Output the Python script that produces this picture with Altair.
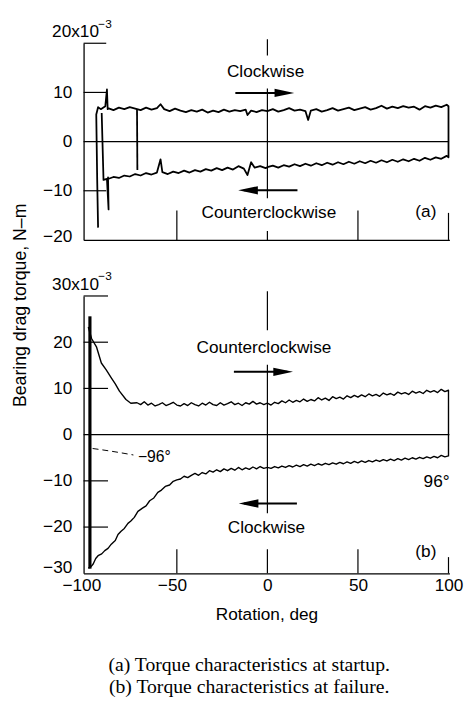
import altair as alt
import pandas as pd

# ---------------- data ----------------
X_DOMAIN = [-101.5, 100.5]
X_TICKS = [-100, -50, 0, 50, 100]

# Panel (a): torque at startup (x10^-3 N-m)
a_loop_x = [-93.5, -94.0, -94.5, -93.5, -92.0, -89.5, -88.6, -88.2]
a_loop_y = [-17.5, -7.5, 5.5, 7.0, 6.6, 7.2, 10.6, 6.6]

a_up_x = [-88, -85, -82, -79, -76, -73, -70, -67, -64, -61, -59, -57, -54, -51, -48,
          -45, -42, -39, -36, -33, -30, -27, -24, -21, -18, -15, -12, -11, -9, -6, -3,
          0, 3, 6, 9, 12, 15, 18, 21, 22.5, 24, 27, 30, 33, 36, 39, 42, 45, 48, 51,
          54, 57, 60, 63, 66, 69, 72, 75, 78, 81, 84, 87, 90, 93, 96, 99, 100]
a_up_y = [6.8, 6.4, 6.9, 6.6, 7.0, 6.7, 6.4, 6.9, 6.5, 6.8, 7.6, 6.6, 6.2, 6.7, 6.3,
          6.0, 6.4, 6.1, 6.5, 5.9, 6.3, 6.0, 6.5, 6.1, 6.4, 6.2, 6.5, 5.4, 6.3, 6.0, 6.4,
          6.2, 6.6, 6.1, 6.4, 6.8, 6.3, 6.5, 6.2, 4.4, 6.3, 6.6, 6.1, 6.4, 6.8, 6.3, 6.6,
          6.9, 6.4, 6.7, 7.0, 6.5, 6.8, 7.3, 6.7, 7.1, 6.8, 7.2, 6.9, 7.1, 6.5, 7.2, 6.9,
          7.3, 7.0, 7.5, 7.2]

a_low_x = [-88, -85, -82, -79, -76, -73, -70, -67, -64, -61, -59, -58, -55, -52, -49,
           -46, -43, -40, -37, -34, -31, -28, -25, -22, -19, -16, -13, -11, -9, -7, -4,
           -1, 0, 3, 6, 9, 12, 15, 18, 21, 24, 27, 30, 33, 36, 39, 42, 45, 48, 51, 54,
           57, 60, 63, 66, 69, 72, 75, 78, 81, 84, 87, 90, 93, 96, 99, 100]
a_low_y = [-7.6, -7.2, -7.4, -6.9, -7.1, -6.6, -6.9, -6.4, -6.7, -6.3, -3.6, -6.2, -6.6,
           -6.1, -6.4, -5.9, -6.3, -5.8, -6.1, -5.6, -5.9, -5.4, -5.8, -5.3, -5.7, -5.0,
           -5.5, -6.8, -4.2, -5.3, -5.0, -5.4, -5.2, -4.9, -5.3, -4.8, -5.1, -4.6, -5.0,
           -4.5, -4.9, -4.4, -4.8, -4.3, -4.7, -4.2, -4.6, -4.1, -4.5, -4.0, -4.4, -3.9,
           -4.3, -3.8, -4.2, -3.7, -4.1, -3.6, -4.0, -3.5, -3.9, -3.3, -3.7, -3.2, -3.5,
           -2.9, -3.2]

a_end_x = [-88.0, -87.7, -88.6, -90.5, -91.5]
a_end_y = [-7.3, -13.8, -7.6, -7.8, 5.8]

a_rev_x = [-72.0, -71.8]
a_rev_y = [6.6, -5.8]

# Panel (b): torque at failure (x10^-3 N-m)
b_up_x = [-98.9, -97.1, -94.4, -91.7, -89, -86.2, -84, -81.7, -78.1, -75.4, -72, -70,
          -68, -66, -64, -62, -60, -58, -56, -54, -52, -50, -48, -46, -44, -42, -40,
          -38, -36, -34, -32, -30, -28, -26, -24, -22, -20, -18, -16, -14, -12, -10,
          -8, -6, -4, -2, 0, 2, 4, 6, 8, 10, 12, 14, 16, 18, 20, 22, 24, 26, 28, 30,
          32, 34, 36, 38, 40, 42, 44, 46, 48, 50, 52, 54, 56, 58, 60, 62, 64, 66, 68,
          70, 72, 74, 76, 78, 80, 82, 84, 86, 88, 90, 92, 94, 96, 98, 100]
b_up_y = [23.3, 20.8, 19.0, 15.5, 14.0, 12.3, 11.0, 9.4, 7.6, 6.8, 6.9, 6.5, 7.1, 6.4,
          6.8, 6.2, 6.5, 6.9, 6.3, 6.6, 7.0, 6.4, 6.2, 6.7, 6.3, 6.9, 6.5, 6.2, 6.8, 6.4,
          7.0, 6.5, 6.3, 6.9, 6.4, 6.7, 7.1, 6.5, 6.8, 6.3, 6.9, 6.6, 7.2, 6.6, 6.9, 6.5,
          6.8, 6.4, 7.0, 6.7, 7.3, 6.9, 7.5, 7.0, 7.4, 7.1, 7.7, 7.2, 7.6, 7.3, 8.0, 7.5,
          7.9, 7.4, 8.2, 7.8, 8.1, 7.7, 8.4, 8.0, 8.5, 8.1, 8.6, 8.2, 8.8, 8.4, 8.7, 8.3,
          9.0, 8.6, 8.9, 8.5, 9.2, 8.8, 9.1, 8.7, 9.4, 9.0, 9.3, 8.9, 9.6, 9.2, 9.5, 9.1,
          9.8, 9.3, 9.6]

b_low_x = [-98.9, -97.5, -96.2, -94.8, -93.5, -91.5, -89.8, -88, -86.2, -84, -82.5,
           -80.8, -79, -77, -75.4, -73.5, -71.5, -69, -67, -65, -62.7, -60.5, -58.5,
           -56.4, -54, -52, -50, -48, -46, -44, -42, -40, -38, -36, -34, -32, -30, -28,
           -26, -24, -22, -20, -18, -16, -14, -12, -10, -8, -6, -4, -2, 0, 2, 4, 6, 8,
           10, 12, 14, 16, 18, 20, 22, 24, 26, 28, 30, 32, 34, 36, 38, 40, 42, 44, 46,
           48, 50, 52, 54, 56, 58, 60, 62, 64, 66, 68, 70, 72, 74, 76, 78, 80, 82, 84,
           86, 88, 90, 92, 94, 96, 98, 100]
b_low_y = [-28.9, -28.6, -28.0, -26.8, -26.2, -25.8, -25.1, -24.6, -23.7, -22.9, -21.6,
           -20.9, -20.3, -19.2, -18.7, -17.9, -16.6, -15.9, -15.4, -14.3, -13.7, -12.5,
           -12.0, -11.2, -10.9, -10.1, -9.8, -9.6, -9.0, -9.3, -8.8, -8.4, -8.8, -8.2,
           -8.5, -7.8, -8.1, -7.6, -8.0, -7.4, -7.8, -7.3, -7.7, -7.1, -7.6, -7.2, -7.5,
           -7.0, -7.4, -6.9, -7.3, -7.1, -7.3, -6.9, -7.2, -6.8, -7.1, -6.7, -7.0, -6.6,
           -6.9, -6.5, -6.8, -6.4, -6.7, -6.3, -6.6, -6.2, -6.5, -6.1, -6.4, -6.0, -6.3,
           -5.9, -6.2, -5.8, -6.1, -5.7, -6.0, -5.6, -5.9, -5.5, -5.8, -5.4, -5.7, -5.3,
           -5.6, -5.2, -5.5, -5.1, -5.4, -5.0, -5.3, -4.9, -5.2, -4.8, -5.1, -4.7, -5.0,
           -4.5, -4.8, -4.6]

b_wall_x = [-98.0, -98.0]
b_wall_y = [25.6, -29.0]

b_lead_x = [-96.5, -86.0, -74.0]
b_lead_y = [-3.0, -3.6, -4.4]

# ---------------- styling ----------------
SANS = "Liberation Sans"
SERIF = "Liberation Serif"
FS = 17.5
W = 372


def path_df(parts):
    rows = []
    for seg, (xs, ys) in enumerate(parts):
        for i, (x, y) in enumerate(zip(xs, ys)):
            rows.append({"x": x, "y": y, "seg": seg, "o": i})
    return pd.DataFrame(rows)


class Panel:
    def __init__(self, dom, xaxis, yaxis):
        self.dom = dom
        self.xaxis = xaxis
        self.yaxis = yaxis

    def X(self):
        return alt.X("x:Q", scale=alt.Scale(domain=X_DOMAIN, nice=False, zero=False),
                     axis=self.xaxis)

    def Y(self):
        return alt.Y("y:Q", scale=alt.Scale(domain=self.dom, nice=False, zero=False),
                     axis=self.yaxis)

    def line(self, parts, lw, **kw):
        return alt.Chart(path_df(parts)).mark_line(
            color="black", strokeWidth=lw, strokeJoin="round", **kw).encode(
            x=self.X(), y=self.Y(), order="o:Q", detail="seg:N")

    def rules(self, rows, width=1.2):
        df = pd.DataFrame(rows, columns=["x", "x2", "y", "y2"])
        return alt.Chart(df).mark_rule(color="black", strokeWidth=width).encode(
            x=self.X(), x2="x2:Q", y=self.Y(), y2="y2:Q")

    def text(self, x, y, s, **kw):
        df = pd.DataFrame({"x": [x], "y": [y], "t": [s]})
        base = dict(font=SANS, fontSize=FS, color="black")
        base.update(kw)
        return alt.Chart(df).mark_text(**base).encode(x=self.X(), y=self.Y(), text="t:N")

    def heads(self, rows):
        out = []
        for x, y, d in rows:
            shape = ("M -1 -0.42 L 1 0 L -1 0.42 Z" if d == "r"
                     else "M 1 -0.42 L -1 0 L 1 0.42 Z")
            df = pd.DataFrame({"x": [x], "y": [y]})
            out.append(alt.Chart(df).mark_point(
                shape=shape, size=400, filled=True, color="black", opacity=1,
                strokeWidth=0).encode(x=self.X(), y=self.Y()))
        return out

    def top_label(self, s):
        return [
            self.text(X_DOMAIN[0], self.dom[1], s, align="left", baseline="alphabetic",
                      dx=-32, dy=-6),
            self.text(X_DOMAIN[0], self.dom[1], "\u22123", align="left",
                      baseline="alphabetic", dx=15, dy=-16, fontSize=12),
        ]


def yaxis(dom, ticks, title=None, low_offset=-4):
    kw = dict(values=ticks, ticks=False, grid=False, domain=True,
              domainColor="black", domainWidth=1.3, labelFont=SANS,
              labelFontSize=FS, labelColor="black", labelPadding=12,
              labelFlush=False,
              labelOffset={"condition": {"test": f"datum.value == {dom[0]}",
                                         "value": low_offset}, "value": 0},
              labelExpr=f"datum.value == {dom[1]} ? '' : datum.label")
    if title:
        kw.update(title=title, titleFont=SANS, titleFontSize=18,
                  titleFontWeight="normal", titleColor="black",
                  titleX=-64, titleY=266, titleAngle=270,
                  titleBaseline="middle", titleAlign="center")
    else:
        kw.update(title=None)
    return alt.Axis(**kw)


# ----- panel (a) -----
dom_a = [-20, 20]
xaxis_a = alt.Axis(values=X_TICKS, labels=False, ticks=False, grid=False, title=None,
                   domain=True, domainColor="black", domainWidth=1.3)
A = Panel(dom_a, xaxis_a, yaxis(dom_a, [-20, -10, 0, 10, 20],
                                "Bearing drag torque, N\u2013m", low_offset=-3))
layers_a = [
    A.line([(a_loop_x + a_up_x + a_low_x[::-1] + a_end_x,
             a_loop_y + a_up_y + a_low_y[::-1] + a_end_y),
            (a_rev_x, a_rev_y)], 1.8),
    A.rules([
        [X_DOMAIN[0], -89, 20, 20], [X_DOMAIN[0], -89, 10, 10],
        [X_DOMAIN[0], -89, -10, -10], [X_DOMAIN[0], 100.3, 0, 0],
        [-50, -50, -20, -14], [50, 50, -20, -14], [100, 100, -20, -14.5],
        [0, 0, 20.8, 17.5], [0, 0, 10.8, -11.5], [0, 0, -18.2, -20],
    ]),
    A.rules([[-17.7, 12, 9.9, 9.9], [-13, 16.6, -9.9, -9.9]], width=2),
    *A.heads([(9.4, 9.9, "r"), (-10.7, -9.9, "l")]),
    A.text(-1.0, 14.1, "Clockwise", baseline="middle"),
    A.text(0.8, -14.5, "Counterclockwise", baseline="middle"),
    A.text(87.5, -14.4, "(a)", baseline="middle"),
    *A.top_label("20x10"),
]
pa = alt.layer(*layers_a).properties(width=W, height=200)

# ----- panel (b) -----
dom_b = [-30, 30]
xaxis_b = alt.Axis(values=X_TICKS, ticks=False, grid=False, domain=True,
                   domainColor="black", domainWidth=1.3, labelFont=SANS,
                   labelFontSize=FS, labelColor="black", labelPadding=4,
                   labelFlush=False,
                   labelOffset={"condition": {"test": "datum.value < 0", "value": -5},
                                "value": 0},
                   title="Rotation, deg", titleFont=SANS, titleFontSize=FS,
                   titleFontWeight="normal", titleColor="black", titlePadding=11)
B = Panel(dom_b, xaxis_b, yaxis(dom_b, [-30, -20, -10, 0, 10, 20, 30], low_offset=-6))
layers_b = [
    B.line([(b_up_x + b_low_x[::-1], b_up_y + b_low_y[::-1])], 1.4),
    B.line([(b_wall_x, b_wall_y)], 3.2),
    B.line([(b_lead_x, b_lead_y)], 1, strokeDash=[6, 4], interpolate="monotone"),
    B.rules([
        [X_DOMAIN[0], -88, 30, 30], [X_DOMAIN[0], -88, 20, 20],
        [X_DOMAIN[0], -88, 10, 10], [X_DOMAIN[0], -88, -10, -10],
        [X_DOMAIN[0], -88, -20, -20], [X_DOMAIN[0], 100.5, 0, 0],
        [-50, -50, -30, -24.8], [50, 50, -30, -24.8], [100, 100, -30, -26.5],
        [0, 0, 31, 22.6], [0, 0, 15.1, -17], [0, 0, -24.8, -30],
    ]),
    B.rules([[-18.5, 11, 13.6, 13.6], [-13, 16.3, -14.9, -14.9]], width=2),
    *B.heads([(8.7, 13.6, "r"), (-10.4, -14.9, "l")]),
    B.text(-1.9, 18.7, "Counterclockwise", baseline="middle"),
    B.text(-0.5, -20.2, "Clockwise", baseline="middle"),
    B.text(87.5, -25.5, "(b)", baseline="middle"),
    B.text(-71.5, -4.8, "\u221296\u00b0", baseline="middle", align="left", fontSize=16),
    B.text(100.6, -10.2, "96\u00b0", baseline="middle", align="right"),
    *B.top_label("30x10"),
]
pb = alt.layer(*layers_b).properties(width=W, height=282)

chart = alt.vconcat(pa, pb, spacing=57, bounds="flush").properties(
    title=alt.TitleParams(
        text=["(a)  Torque characteristics at startup.",
              "(b)  Torque characteristics at failure."],
        orient="bottom", anchor="middle", font=SERIF, fontSize=20,
        fontWeight="normal", color="black", lineHeight=23, offset=33, dx=12),
    padding={"left": 12, "top": 12, "right": 10, "bottom": 5},
    background="white",
).configure_view(stroke=None)

chart.save("out.html", embed_options={"renderer": "svg", "actions": False})
